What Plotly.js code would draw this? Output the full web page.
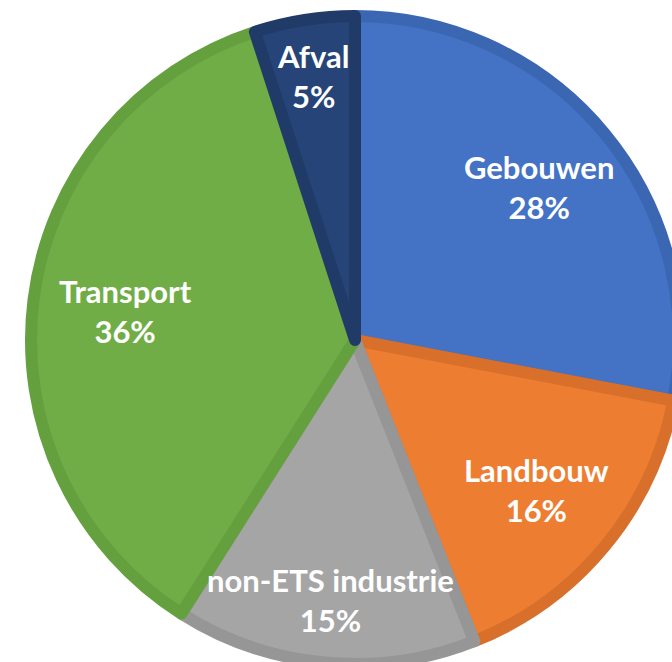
<!DOCTYPE html>
<html>
<head>
<meta charset="utf-8">
<script src="https://cdn.plot.ly/plotly-3.0.1.min.js"></script>
<style>
html,body{margin:0;padding:0;overflow:hidden;background:#fff;}
#chart{width:710px;height:680px;}
</style>
</head>
<body>
<div id="chart"></div>
<script>
const labels = ["Gebouwen", "Landbouw", "non-ETS industrie", "Transport", "Afval"];
const values = [28, 16, 15, 36, 5];
const fillColors = ["#4472C4", "#ED7D31", "#A5A5A5", "#70AD47", "#264478"];
const edgeColors = ["#3A66B2", "#D8702B", "#969696", "#65A03F", "#213B69"];

// layout geometry (pixels of the drawing area)
const W = 710, H = 680, CX = 355, CY = 340, R = 330, LINE = 12;
const labelRadius = [0.725, 0.715, 0.79, 0.70, 0.81];

const rIn = R - LINE / 2;
const trace = {
  type: "pie",
  labels: labels,
  values: values,
  sort: false,
  direction: "clockwise",
  rotation: 0,
  marker: {colors: fillColors, line: {color: edgeColors, width: LINE}},
  textinfo: "none",
  hoverinfo: "none",
  showlegend: false,
  domain: {x: [(CX - rIn) / W, (CX + rIn) / W], y: [1 - (CY + rIn) / H, 1 - (CY - rIn) / H]}
};

const total = values.reduce((a, b) => a + b, 0);
let cum = 0;
const annotations = values.map((v, i) => {
  const mid = (cum + v / 2) / total * 2 * Math.PI;
  cum += v;
  const r = labelRadius[i] * R;
  const px = CX + r * Math.sin(mid);
  const py = CY - r * Math.cos(mid);
  return {
    xref: "paper", yref: "paper",
    x: px / W, y: 1 - py / H,
    xanchor: "center", yanchor: "middle",
    showarrow: false,
    text: labels[i] + "<br>" + Math.round(v / total * 100) + "%",
    font: {family: "Lato, 'Open Sans', sans-serif", size: 31, color: "#ffffff", weight: "bold"},
    align: "center"
  };
});

Plotly.newPlot("chart", [trace], {
  width: W,
  height: H,
  margin: {l: 0, r: 0, t: 0, b: 0},
  paper_bgcolor: "#ffffff",
  showlegend: false,
  annotations: annotations
}, {displayModeBar: false, staticPlot: true});
</script>
</body>
</html>
